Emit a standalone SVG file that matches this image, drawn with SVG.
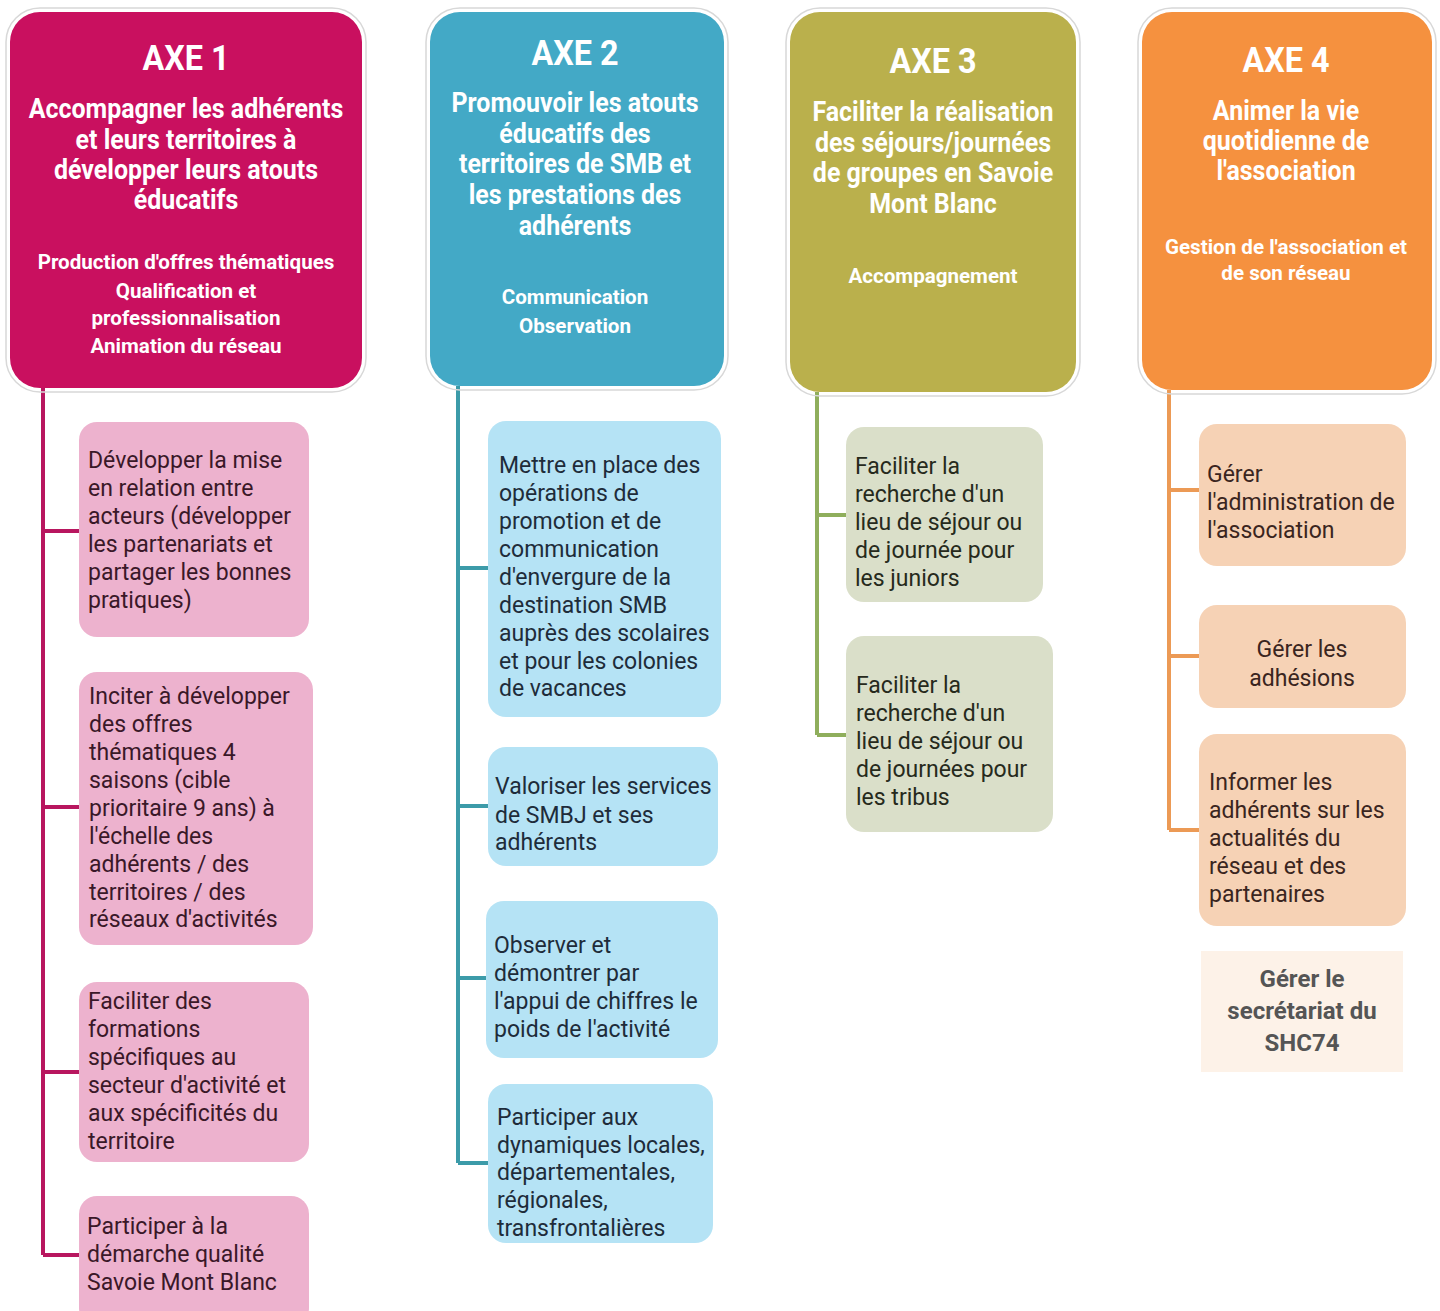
<svg xmlns="http://www.w3.org/2000/svg" width="1440" height="1311" viewBox="0 0 1440 1311">
<style>
.hd{font-family:Roboto,"Liberation Sans",sans-serif;font-weight:bold;fill:#fff;text-anchor:middle}
.ax{font-size:36px}
.tt{font-size:27px}
.st{font-size:21px}
.ch{font-family:Roboto,"Liberation Sans",sans-serif;font-size:23px}
.frame{fill:none;stroke:#d8d8d8;stroke-width:1.5}
.c1{fill:#EDB2CE}.t1{fill:#3a1828}
.c2{fill:#B5E3F5}.t2{fill:#1e2c3a}
.c3{fill:#DADFC9}.t3{fill:#262a1c}
.c4{fill:#F6D2B5}.t4{fill:#3a2520}
.conn path{fill:none;stroke-width:4}
</style>
<rect width="1440" height="1311" fill="#fff"/>
<g id="connectors" class="conn">
<path stroke="#B8165F" d="M43 388V1255M43 531H80M43 807H80M43 1072H80M43 1255H80"/>
<path stroke="#3C9BA9" d="M458 386V1163M458 568H489M458 806H489M458 978H487M458 1163H489"/>
<path stroke="#8FAE5C" d="M817 392V735M817 515H847M817 735H847"/>
<path stroke="#EC9A55" d="M1169 390V830M1169 490H1200M1169 656H1200M1169 830H1200"/>
</g>
<g id="axe1">
<rect class="frame" x="6" y="8" width="360" height="384" rx="34"/>
<rect x="10" y="12" width="352" height="376" rx="30" fill="#C9105F"/>
<text class="hd ax" transform="translate(186,0) scale(0.9,1)" x="0" y="70">AXE 1</text>
<g transform="translate(186,0) scale(0.925,1)">
<text class="hd tt" x="0" y="118">Accompagner les adhérents</text>
<text class="hd tt" x="0" y="149">et leurs territoires à</text>
<text class="hd tt" x="0" y="179">développer leurs atouts</text>
<text class="hd tt" x="0" y="209">éducatifs</text>
</g>
<g transform="translate(186,0) scale(0.98,1)">
<text class="hd st" x="0" y="269">Production d'offres thématiques</text>
<text class="hd st" x="0" y="298">Qualification et</text>
<text class="hd st" x="0" y="325">professionnalisation</text>
<text class="hd st" x="0" y="353">Animation du réseau</text>
</g>
</g>
<g id="axe2">
<rect class="frame" x="426" y="8" width="302" height="382" rx="34"/>
<rect x="430" y="12" width="294" height="374" rx="30" fill="#43A9C6"/>
<text class="hd ax" transform="translate(575,0) scale(0.9,1)" x="0" y="65">AXE 2</text>
<g transform="translate(575,0) scale(0.925,1)">
<text class="hd tt" x="0" y="112">Promouvoir les atouts</text>
<text class="hd tt" x="0" y="143">éducatifs des</text>
<text class="hd tt" x="0" y="173">territoires de SMB et</text>
<text class="hd tt" x="0" y="204">les prestations des</text>
<text class="hd tt" x="0" y="235">adhérents</text>
</g>
<g transform="translate(575,0) scale(0.98,1)">
<text class="hd st" x="0" y="304">Communication</text>
<text class="hd st" x="0" y="333">Observation</text>
</g>
</g>
<g id="axe3">
<rect class="frame" x="786" y="8" width="294" height="388" rx="34"/>
<rect x="790" y="12" width="286" height="380" rx="30" fill="#BAB04C"/>
<text class="hd ax" transform="translate(933,0) scale(0.9,1)" x="0" y="73">AXE 3</text>
<g transform="translate(933,0) scale(0.925,1)">
<text class="hd tt" x="0" y="121">Faciliter la réalisation</text>
<text class="hd tt" x="0" y="152">des séjours/journées</text>
<text class="hd tt" x="0" y="182">de groupes en Savoie</text>
<text class="hd tt" x="0" y="213">Mont Blanc</text>
</g>
<g transform="translate(933,0) scale(0.98,1)">
<text class="hd st" x="0" y="283">Accompagnement</text>
</g>
</g>
<g id="axe4">
<rect class="frame" x="1138" y="8" width="298" height="386" rx="34"/>
<rect x="1142" y="12" width="290" height="378" rx="30" fill="#F5913F"/>
<text class="hd ax" transform="translate(1286,0) scale(0.9,1)" x="0" y="72">AXE 4</text>
<g transform="translate(1286,0) scale(0.925,1)">
<text class="hd tt" x="0" y="120">Animer la vie</text>
<text class="hd tt" x="0" y="150">quotidienne  de</text>
<text class="hd tt" x="0" y="180">l'association</text>
</g>
<g transform="translate(1286,0) scale(0.98,1)">
<text class="hd st" x="0" y="254">Gestion de l'association et</text>
<text class="hd st" x="0" y="280">de son réseau</text>
</g>
</g>
<g id="a1n1"><rect class="c1" x="79" y="422" width="230" height="215" rx="18"/>
<text class="ch t1"><tspan x="88" y="468">Développer la mise</tspan><tspan x="88" y="496">en relation entre</tspan><tspan x="88" y="524">acteurs (développer</tspan><tspan x="88" y="552">les partenariats et</tspan><tspan x="88" y="580">partager les bonnes</tspan><tspan x="88" y="608">pratiques)</tspan></text></g>
<g id="a1n2"><rect class="c1" x="79" y="672" width="234" height="273" rx="18"/>
<text class="ch t1"><tspan x="89" y="704">Inciter à développer</tspan><tspan x="89" y="732">des offres</tspan><tspan x="89" y="760">thématiques 4</tspan><tspan x="89" y="788">saisons (cible</tspan><tspan x="89" y="816">prioritaire 9 ans) à</tspan><tspan x="89" y="844">l'échelle des</tspan><tspan x="89" y="872">adhérents / des</tspan><tspan x="89" y="900">territoires / des</tspan><tspan x="89" y="927">réseaux d'activités</tspan></text></g>
<g id="a1n3"><rect class="c1" x="79" y="982" width="230" height="180" rx="18"/>
<text class="ch t1"><tspan x="88" y="1009">Faciliter des</tspan><tspan x="88" y="1037">formations</tspan><tspan x="88" y="1065">spécifiques au</tspan><tspan x="88" y="1093">secteur d'activité et</tspan><tspan x="88" y="1121">aux spécificités du</tspan><tspan x="88" y="1149">territoire</tspan></text></g>
<g id="a1n4"><rect class="c1" x="79" y="1196" width="230" height="130" rx="18"/>
<text class="ch t1"><tspan x="87" y="1234">Participer à la</tspan><tspan x="87" y="1262">démarche qualité</tspan><tspan x="87" y="1290">Savoie Mont Blanc</tspan></text></g>
<g id="a2n1"><rect class="c2" x="488" y="421" width="233" height="296" rx="18"/>
<text class="ch t2"><tspan x="499" y="473">Mettre en place des</tspan><tspan x="499" y="501">opérations de</tspan><tspan x="499" y="529">promotion et de</tspan><tspan x="499" y="557">communication</tspan><tspan x="499" y="585">d'envergure de la</tspan><tspan x="499" y="613">destination SMB</tspan><tspan x="499" y="641">auprès des scolaires</tspan><tspan x="499" y="669">et pour les colonies</tspan><tspan x="499" y="696">de vacances</tspan></text></g>
<g id="a2n2"><rect class="c2" x="488" y="747" width="230" height="119" rx="18"/>
<text class="ch t2"><tspan x="495" y="794">Valoriser les services</tspan><tspan x="495" y="823">de SMBJ et ses</tspan><tspan x="495" y="850">adhérents</tspan></text></g>
<g id="a2n3"><rect class="c2" x="486" y="901" width="232" height="157" rx="18"/>
<text class="ch t2"><tspan x="494" y="953">Observer et</tspan><tspan x="494" y="981">démontrer par</tspan><tspan x="494" y="1009">l'appui de chiffres le</tspan><tspan x="494" y="1037">poids de l'activité</tspan></text></g>
<g id="a2n4"><rect class="c2" x="488" y="1084" width="225" height="159" rx="18"/>
<text class="ch t2"><tspan x="497" y="1125">Participer aux</tspan><tspan x="497" y="1153">dynamiques locales,</tspan><tspan x="497" y="1180">départementales,</tspan><tspan x="497" y="1208">régionales,</tspan><tspan x="497" y="1236">transfrontalières</tspan></text></g>
<g id="a3n1"><rect class="c3" x="846" y="427" width="197" height="175" rx="18"/>
<text class="ch t3"><tspan x="855" y="474">Faciliter la</tspan><tspan x="855" y="502">recherche d'un</tspan><tspan x="855" y="530">lieu de séjour ou</tspan><tspan x="855" y="558">de journée pour</tspan><tspan x="855" y="586">les juniors</tspan></text></g>
<g id="a3n2"><rect class="c3" x="846" y="636" width="207" height="196" rx="18"/>
<text class="ch t3"><tspan x="856" y="693">Faciliter la</tspan><tspan x="856" y="721">recherche d'un</tspan><tspan x="856" y="749">lieu de séjour ou</tspan><tspan x="856" y="777">de journées pour</tspan><tspan x="856" y="805">les tribus</tspan></text></g>
<g id="a4n1"><rect class="c4" x="1199" y="424" width="207" height="142" rx="18"/>
<text class="ch t4"><tspan x="1207" y="482">Gérer</tspan><tspan x="1207" y="510">l'administration de</tspan><tspan x="1207" y="538">l'association</tspan></text></g>
<g id="a4n2"><rect class="c4" x="1199" y="605" width="207" height="103" rx="18"/>
<text class="ch t4" text-anchor="middle"><tspan x="1302" y="657">Gérer les</tspan><tspan x="1302" y="686">adhésions</tspan></text></g>
<g id="a4n3"><rect class="c4" x="1199" y="734" width="207" height="192" rx="18"/>
<text class="ch t4"><tspan x="1209" y="790">Informer les</tspan><tspan x="1209" y="818">adhérents sur les</tspan><tspan x="1209" y="846">actualités du</tspan><tspan x="1209" y="874">réseau et des</tspan><tspan x="1209" y="902">partenaires</tspan></text></g>
<g id="a4n4"><rect x="1201" y="951" width="202" height="121" fill="#FDF2E8"/>
<text font-family="Roboto,'Liberation Sans',sans-serif" font-weight="bold" font-size="24" fill="#555" text-anchor="middle"><tspan x="1302" y="987">Gérer le</tspan><tspan x="1302" y="1019">secrétariat du</tspan><tspan x="1302" y="1051">SHC74</tspan></text></g>
</svg>
